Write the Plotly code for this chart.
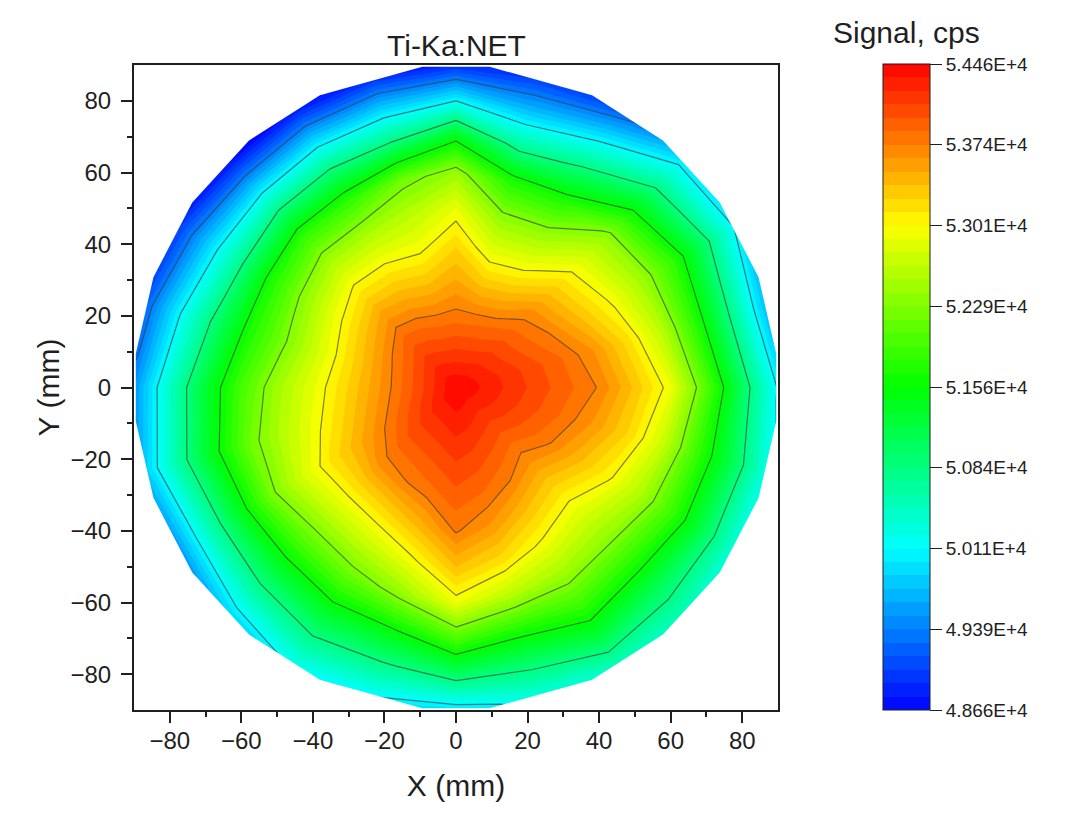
import math
import plotly.graph_objects as go

# Measurement rings (mm) and spokes (degrees)
rings = [0, 10, 20, 30, 40, 50, 60, 70, 80, 90]
spokes = [0, 15, 30, 45, 60, 75, 90, 105, 120, 135, 150, 165, 180,
          195, 210, 225, 240, 255, 270, 285, 300, 315, 330, 345, 360]
peak = 54460
# Vertices of the wafer outline: radius (mm) and angles (degrees)
rim_radius = 90
rim_angles = [6, 20, 35, 50, 65, 84, 96, 115, 130, 145, 160, 174,
              186, 200, 215, 230, 245, 264, 276, 295, 310, 325, 340, 354]
# Ring outside the wafer, hidden by the outline, closes the contours
outer_radius = 135
outer_level = 48000

# Signal on each spoke, from ring 10 mm to ring 90 mm (cps)
s000 = [54278, 54095, 53913, 53721, 53347, 52924, 52040, 51046, 50080]
s015 = [54265, 54071, 53876, 53611, 53182, 52595, 51714, 50733, 49700]
s030 = [54220, 53980, 53740, 53356, 52961, 52468, 51841, 50992, 50080]
s045 = [54198, 53936, 53641, 53247, 52828, 52372, 51560, 50739, 49950]
s060 = [54147, 53834, 53395, 52897, 52383, 51736, 50926, 50059, 49150]
s075 = [54125, 53790, 53321, 52824, 52320, 51688, 50655, 49732, 48950]
s090 = [54125, 53790, 53501, 53221, 52894, 52429, 51440, 50110, 48900]
s105 = [54117, 53774, 53365, 52957, 52606, 52168, 50917, 49894, 48850]
s120 = [54143, 53826, 53430, 53005, 52494, 51824, 50881, 49839, 48760]
s135 = [54169, 53877, 53495, 53033, 52492, 51825, 50840, 49745, 48680]
s150 = [54107, 53754, 53328, 52868, 52323, 51683, 50726, 49839, 48950]
s165 = [54073, 53678, 53236, 52756, 52235, 51686, 50923, 50085, 49200]
s180 = [54060, 53661, 53266, 52871, 52473, 51956, 51275, 50444, 49500]
s195 = [54091, 53721, 53347, 52972, 52593, 52154, 51459, 50666, 49800]
s210 = [54147, 53834, 53508, 53176, 52749, 52193, 51357, 50487, 49500]
s225 = [54206, 53952, 53654, 53151, 52629, 52047, 51362, 50650, 49850]
s240 = [54216, 53972, 53715, 53211, 52701, 52157, 51495, 50840, 50200]
s255 = [54242, 54024, 53805, 53415, 52936, 52369, 51516, 50786, 50060]
s270 = [54284, 54109, 53934, 53758, 53375, 52920, 51994, 51029, 49950]
s285 = [54260, 54060, 53860, 53581, 53185, 52599, 51710, 50942, 50250]
s300 = [54220, 53980, 53740, 53352, 52952, 52465, 51891, 51241, 50470]
s315 = [54187, 53915, 53599, 53206, 52794, 52363, 51724, 51039, 50500]
s330 = [54228, 53995, 53763, 53405, 53032, 52523, 51867, 51095, 50300]
s345 = [54258, 54057, 53855, 53588, 53233, 52704, 51861, 51110, 50250]

cb_vals = [48660, 49385, 50110, 50835, 51560, 52285, 53010, 53735, 54460]
cb_text = ["4.866E+4", "4.939E+4", "5.011E+4", "5.084E+4", "5.156E+4",
           "5.229E+4", "5.301E+4", "5.374E+4", "5.446E+4"]
xy_ticks = [-80, -60, -40, -20, 0, 20, 40, 60, 80]
xy_minor = [-70, -50, -30, -10, 10, 30, 50, 70]
lo, hi = -90, 90

rows = [s000, s015, s030, s045, s060, s075, s090, s105, s120, s135, s150, s165,
        s180, s195, s210, s225, s240, s255, s270, s285, s300, s315, s330, s345, s000]
radii = rings + [outer_radius]
z = [[peak] + r + [outer_level] for r in rows]
X = [[r * math.cos(math.radians(t)) for r in radii] for t in spokes]
Y = [[r * math.sin(math.radians(t)) for r in radii] for t in spokes]

W, H = 1072, 821
PAD = 8  # the page body keeps its default margin
FONT = "Liberation Sans"
INK = "#1f1f1f"
hidden = dict(showgrid=False, showline=False, showticklabels="none", startline=False,
              endline=False, minorgridcount=0, smoothing=0)
jet = [[0, "#0000ff"], [0.25, "#00ffff"], [0.5, "#00ff00"], [0.75, "#ffff00"], [1, "#ff0000"]]

fig = go.Figure()
fig.add_trace(go.Carpet(a=radii, b=spokes, x=X, y=Y, carpet="wafer",
                        aaxis=hidden, baxis=hidden))
fig.add_trace(go.Contourcarpet(
    a=radii, b=spokes, z=z, carpet="wafer", autocontour=False,
    zauto=False, zmin=cb_vals[0], zmax=cb_vals[-1], colorscale=jet,
    contours=dict(start=cb_vals[0], end=cb_vals[-1], size=(cb_vals[-1] - cb_vals[0]) / 48,
                  coloring="fill", showlines=False),
    line=dict(width=0, smoothing=0),
    colorbar=dict(x=(883 - PAD) / W, xanchor="left", xpad=0, y=1 - (64 - PAD) / H, yanchor="top", ypad=0,
                  thickness=47, thicknessmode="pixels", len=646, lenmode="pixels",
                  outlinecolor=INK, outlinewidth=1,
                  tickmode="array", tickvals=cb_vals, ticktext=cb_text,
                  ticks="outside", ticklen=12, tickwidth=1, tickcolor=INK,
                  tickfont=dict(family=FONT, size=19, color=INK)),
))
fig.add_trace(go.Contourcarpet(
    a=radii, b=spokes, z=z, carpet="wafer", autocontour=False, showscale=False,
    contours=dict(start=cb_vals[1], end=cb_vals[7], size=725, coloring="none", showlines=True),
    line=dict(width=1.2, color="rgba(60,60,60,0.65)", smoothing=0),
))

# White surround of the wafer outline
box = f"M{lo},{lo} L{hi},{lo} L{hi},{hi} L{lo},{hi} Z"
rim_pts = [(rim_radius * math.cos(math.radians(a)), rim_radius * math.sin(math.radians(a)))
           for a in rim_angles]
rim = "M" + " L".join(f"{x:.3f},{y:.3f}" for x, y in rim_pts) + " Z"
fig.add_shape(type="path", path=box + " " + rim, xref="x", yref="y", fillcolor="white",
              fillrule="evenodd", line=dict(width=0), layer="above")

ax = dict(range=[lo, hi], tickmode="array", tickvals=xy_ticks, ticks="outside", ticklen=11,
          tickwidth=2, tickcolor=INK, showgrid=False, zeroline=False, showline=True,
          linewidth=2, linecolor=INK, mirror=True,
          tickfont=dict(family=FONT, size=24, color=INK),
          minor=dict(tickmode="array", tickvals=xy_minor,
                     ticks="outside", ticklen=5, tickwidth=2, tickcolor=INK))

fig.update_layout(
    width=W, height=H, autosize=False, margin=dict(l=0, r=0, t=0, b=0),
    paper_bgcolor="white", plot_bgcolor="white", showlegend=False,
    xaxis=dict(ax, domain=[(134 - PAD) / W, (778 - PAD) / W], anchor="y", ticklabelstandoff=-3,
               title=dict(text="X (mm)", font=dict(family=FONT, size=30, color=INK), standoff=22)),
    yaxis=dict(ax, domain=[1 - (710 - PAD) / H, 1 - (65 - PAD) / H], anchor="x", ticklabelstandoff=5,
               title=dict(text="Y (mm)", font=dict(family=FONT, size=30, color=INK), standoff=2)),
    annotations=[
        dict(text="Ti-Ka:NET", xref="x domain", yref="y domain", x=0.5, y=1, yanchor="bottom",
             yshift=1, showarrow=False, font=dict(family=FONT, size=30, color=INK)),
        dict(text="Signal, cps", xref="paper", yref="paper", x=(906 - PAD) / W, y=1 - (33 - PAD) / H,
             xanchor="center", yanchor="middle", showarrow=False,
             font=dict(family=FONT, size=30, color=INK)),
    ],
)
fig.write_html("out.html")
